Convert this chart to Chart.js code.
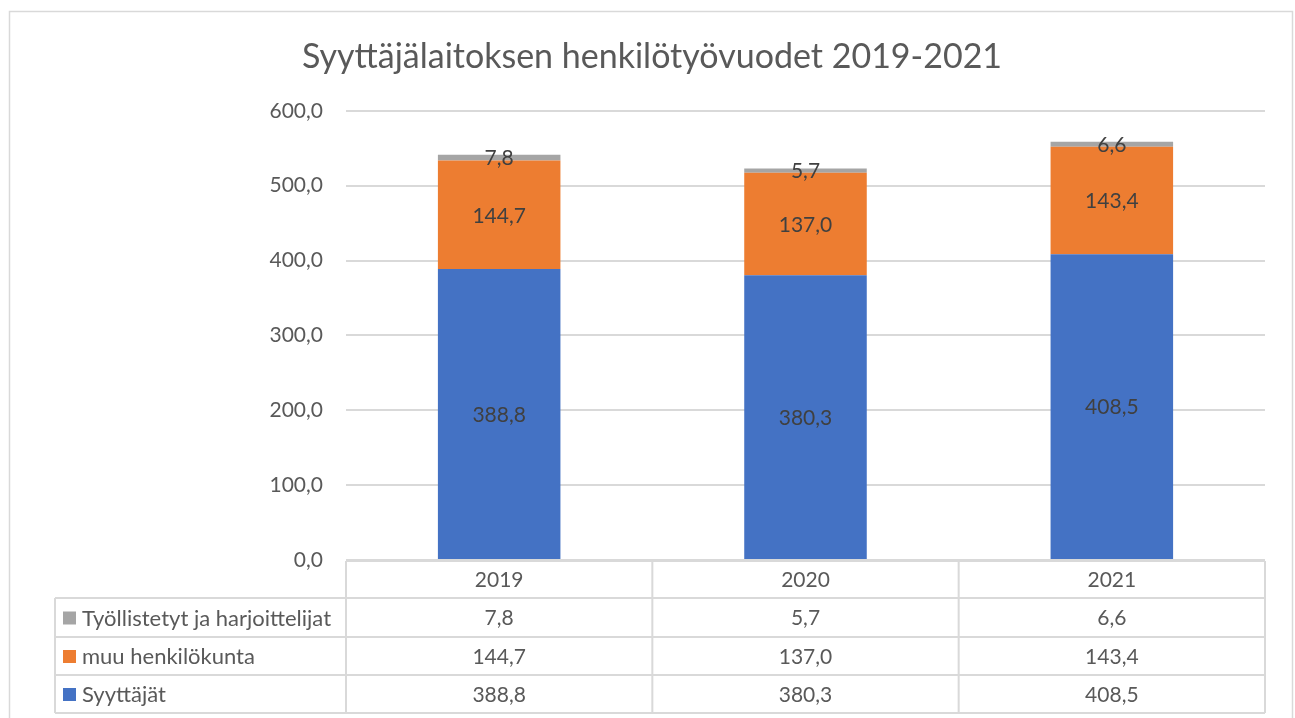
<!DOCTYPE html>
<html>
<head>
<meta charset="utf-8">
<script src="https://cdn.jsdelivr.net/npm/chart.js@4.4.1/dist/chart.umd.min.js"></script>
<style>
  html, body { margin: 0; padding: 0; background: #fff; }
  #wrap { width: 1295px; height: 718px; position: relative; }
</style>
</head>
<body>
<div id="wrap"><canvas id="chartStaff" width="1295" height="718"></canvas></div>
<script>
// Data
const years = ["2019", "2020", "2021"];
const syyttajat = [388.8, 380.3, 408.5];
const muuHenkilokunta = [144.7, 137.0, 143.4];
const tyollistetyt = [7.8, 5.7, 6.6];
const seriesNames = ["Syyttäjät", "muu henkilökunta", "Työllistetyt ja harjoittelijat"];
const yTicks = [0, 100, 200, 300, 400, 500, 600];

const FONT = "Lato, 'Open Sans', sans-serif";
const TEXT = "#595959";
const LABEL = "#404040";
const LINE = "#d9d9d9";

const fmt = v => v.toFixed(1).replace(".", ",");

// Frame around the whole chart
const framePlugin = {
  id: "frame",
  beforeDraw(chart) {
    const ctx = chart.ctx;
    ctx.save();
    ctx.fillStyle = "#fff";
    ctx.fillRect(0, 0, chart.width, chart.height);
    ctx.strokeStyle = LINE;
    ctx.lineWidth = 1.5;
    ctx.strokeRect(9.5, 11.5, 1283, 720);
    ctx.restore();
  }
};

// Value labels in the middle of each segment
const segmentLabels = {
  id: "segmentLabels",
  afterDatasetsDraw(chart) {
    const ctx = chart.ctx;
    ctx.save();
    ctx.font = "21px " + FONT;
    ctx.fillStyle = LABEL;
    ctx.textAlign = "center";
    ctx.textBaseline = "middle";
    chart.data.datasets.forEach((ds, di) => {
      chart.getDatasetMeta(di).data.forEach((bar, i) => {
        const yMid = (bar.y + bar.base) / 2;
        ctx.fillText(fmt(ds.data[i]), bar.x, yMid + 1);
      });
    });
    ctx.restore();
  }
};

// Excel-style data table under the plot
const dataTable = {
  id: "dataTable",
  afterDraw(chart) {
    const ctx = chart.ctx;
    const area = chart.chartArea;
    const xs = chart.scales.x;
    const left = 55;
    const colW = (area.right - area.left) / years.length;
    const headTop = area.bottom + 1;
    const rowTops = [598, 637, 675, 713];
    ctx.save();
    ctx.strokeStyle = LINE;
    ctx.lineWidth = 2;
    ctx.beginPath();
    // header row line
    ctx.moveTo(area.left, headTop); ctx.lineTo(area.right, headTop);
    rowTops.forEach(y => { ctx.moveTo(left, y); ctx.lineTo(area.right, y); });
    ctx.moveTo(left, rowTops[0]); ctx.lineTo(left, rowTops[3]);
    for (let c = 0; c <= years.length; c++) {
      const x = area.left + c * colW;
      ctx.moveTo(x, headTop); ctx.lineTo(x, rowTops[3]);
    }
    ctx.stroke();

    ctx.font = "21px " + FONT;
    ctx.fillStyle = TEXT;
    ctx.textAlign = "center";
    ctx.textBaseline = "middle";
    years.forEach((y, i) => {
      ctx.fillText(y, xs.getPixelForValue(i), (headTop + rowTops[0]) / 2 + 1);
    });

    // rows from top: gray, orange, blue (reverse of stacking order)
    const rows = chart.data.datasets.slice().reverse();
    rows.forEach((ds, r) => {
      const yMid = (rowTops[r] + rowTops[r + 1]) / 2 + 1;
      ctx.fillStyle = ds.backgroundColor;
      ctx.fillRect(63, yMid - 7, 13, 13);
      ctx.fillStyle = TEXT;
      ctx.textAlign = "left";
      ctx.font = "22px " + FONT;
      ctx.fillText(ds.label, 82, yMid);
      ctx.font = "21px " + FONT;
      ctx.textAlign = "center";
      ds.data.forEach((v, i) => {
        ctx.fillText(fmt(v), xs.getPixelForValue(i), yMid);
      });
    });
    ctx.restore();
  }
};

new Chart(document.getElementById("chartStaff"), {
  type: "bar",
  data: {
    labels: years,
    datasets: [
      { label: seriesNames[0], data: syyttajat, backgroundColor: "#4472c4" },
      { label: seriesNames[1], data: muuHenkilokunta, backgroundColor: "#ed7d31" },
      { label: seriesNames[2], data: tyollistetyt, backgroundColor: "#a5a5a5" }
    ]
  },
  options: {
    responsive: false,
    animation: false,
    events: [],
    layout: { padding: { left: 39, right: 30, top: 0, bottom: 158 } },
    datasets: { bar: { barPercentage: 1, categoryPercentage: 0.4, borderWidth: 0 } },
    plugins: {
      legend: { display: false },
      tooltip: { enabled: false },
      title: {
        display: true,
        text: "Syyttäjälaitoksen henkilötyövuodet 2019-2021",
        color: TEXT,
        font: { family: FONT, size: 34, weight: "normal" },
        padding: { top: 37, bottom: 33 }
      }
    },
    scales: {
      x: {
        stacked: true,
        display: false
      },
      y: {
        stacked: true,
        min: 0,
        max: 600,
        afterFit(scale) { scale.width = 307; },
        afterBuildTicks(scale) { scale.ticks = yTicks.map(v => ({ value: v })); },
        border: { display: false },
        grid: { color: LINE, lineWidth: 2, drawTicks: false },
        ticks: {
          color: TEXT,
          padding: 23,
          font: { family: FONT, size: 21 },
          callback: v => fmt(v)
        }
      }
    }
  },
  plugins: [framePlugin, segmentLabels, dataTable]
});
</script>
</body>
</html>
